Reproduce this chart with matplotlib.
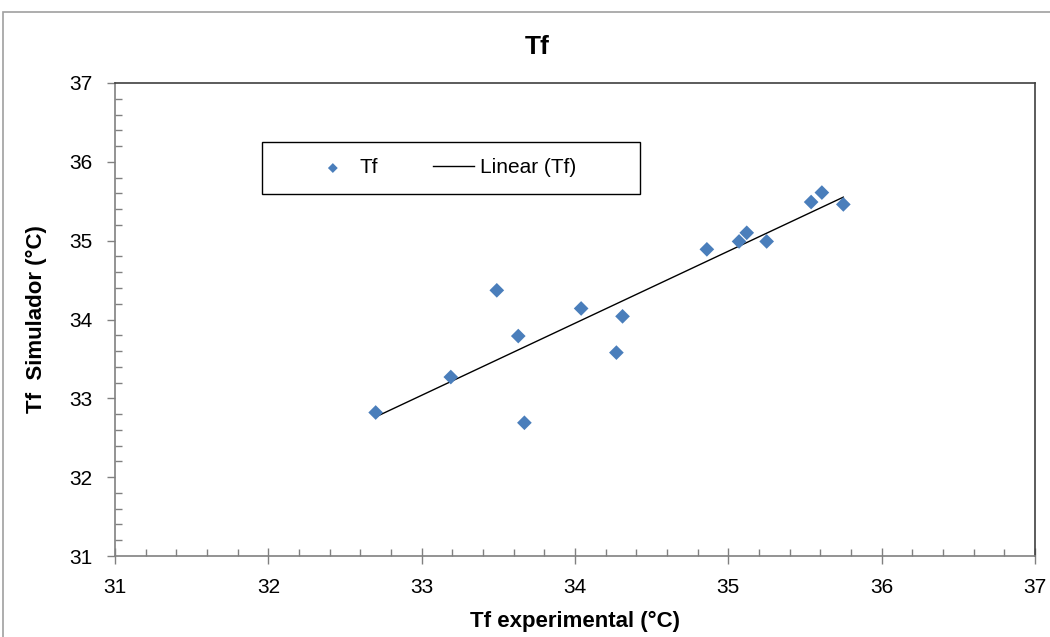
import numpy as np
import matplotlib
matplotlib.use("Agg")
import matplotlib.pyplot as plt
from matplotlib.patches import Rectangle
from matplotlib.ticker import MultipleLocator

plt.rcParams["font.family"] = ["Liberation Sans", "DejaVu Sans"]

# Measured vs simulated Tf values (°C)
tf_experimental = [32.70, 33.19, 33.49, 33.63, 33.67, 34.04, 34.27, 34.31,
                   34.86, 35.07, 35.12, 35.25, 35.54, 35.61, 35.75]
tf_simulador = [32.82, 33.27, 34.37, 33.79, 32.69, 34.14, 33.58, 34.04,
                34.89, 34.99, 35.10, 34.99, 35.49, 35.61, 35.46]

x_ticks = [31, 32, 33, 34, 35, 36, 37]
y_ticks = [31, 32, 33, 34, 35, 36, 37]

x = np.array(tf_experimental)
y = np.array(tf_simulador)
slope, intercept = np.polyfit(x, y, 1)
x_fit = np.array([x.min(), x.max()])
y_fit = slope * x_fit + intercept

W, H = 1050, 637
fig = plt.figure(figsize=(W / 100, H / 100), dpi=100)


def fx(px):
    return px / W


def fy(py):
    return 1 - py / H


# chart area frame
fig.patches.append(Rectangle((fx(3), -0.05), 1.2, fy(12) + 0.05,
                             transform=fig.transFigure, fill=False,
                             edgecolor="#a0a0a0", linewidth=1.2))

ax = fig.add_axes([fx(115), fy(556), 920 / W, 473 / H])

ax.scatter(x, y, marker="D", s=56, color="#4a7ebb", edgecolors="none",
           label="Tf", zorder=3)
ax.plot(x_fit, y_fit, color="black", linewidth=1.0, label="Linear (Tf)",
        zorder=2)

ax.set_xlim(31, 37)
ax.set_ylim(31, 37)
ax.set_xticks(x_ticks)
ax.set_yticks(y_ticks)
ax.xaxis.set_minor_locator(MultipleLocator(0.2))
ax.yaxis.set_minor_locator(MultipleLocator(0.2))

ax.tick_params(axis="x", which="major", direction="inout", length=11,
               width=1, color="#808080", labelsize=15, pad=10)
ax.tick_params(axis="y", which="major", direction="out", length=6,
               width=1, color="#808080", labelsize=15, pad=10)
ax.tick_params(which="minor", direction="in", length=5, width=1,
               color="#808080")

for side in ("left", "bottom"):
    ax.spines[side].set_color("#808080")
    ax.spines[side].set_linewidth(1.2)
for side in ("top", "right"):
    ax.spines[side].set_color("#404040")
    ax.spines[side].set_linewidth(1.2)

ax.set_xlabel("Tf experimental (°C)", fontsize=16, fontweight="bold",
              labelpad=10)
ax.set_ylabel("Tf  Simulador (°C)", fontsize=16, fontweight="bold",
              labelpad=16)

fig.text(fx(537), fy(47), "Tf", ha="center", va="center",
         fontsize=19, fontweight="bold")

# legend frame and entries
fig.patches.append(Rectangle((fx(262), fy(194)), (640 - 262) / W,
                             (194 - 142) / H, transform=fig.transFigure,
                             fill=False, edgecolor="black", linewidth=1.0,
                             zorder=5))
ax.legend(loc="center left", ncol=2, bbox_to_anchor=(fx(312), fy(168)),
          bbox_transform=fig.transFigure, fontsize=15, frameon=False,
          borderpad=0, borderaxespad=0, handlelength=2.0,
          handletextpad=0.3, columnspacing=2.6, markerscale=0.67,
          scatterpoints=1)

fig.savefig("out.png", dpi=100)
